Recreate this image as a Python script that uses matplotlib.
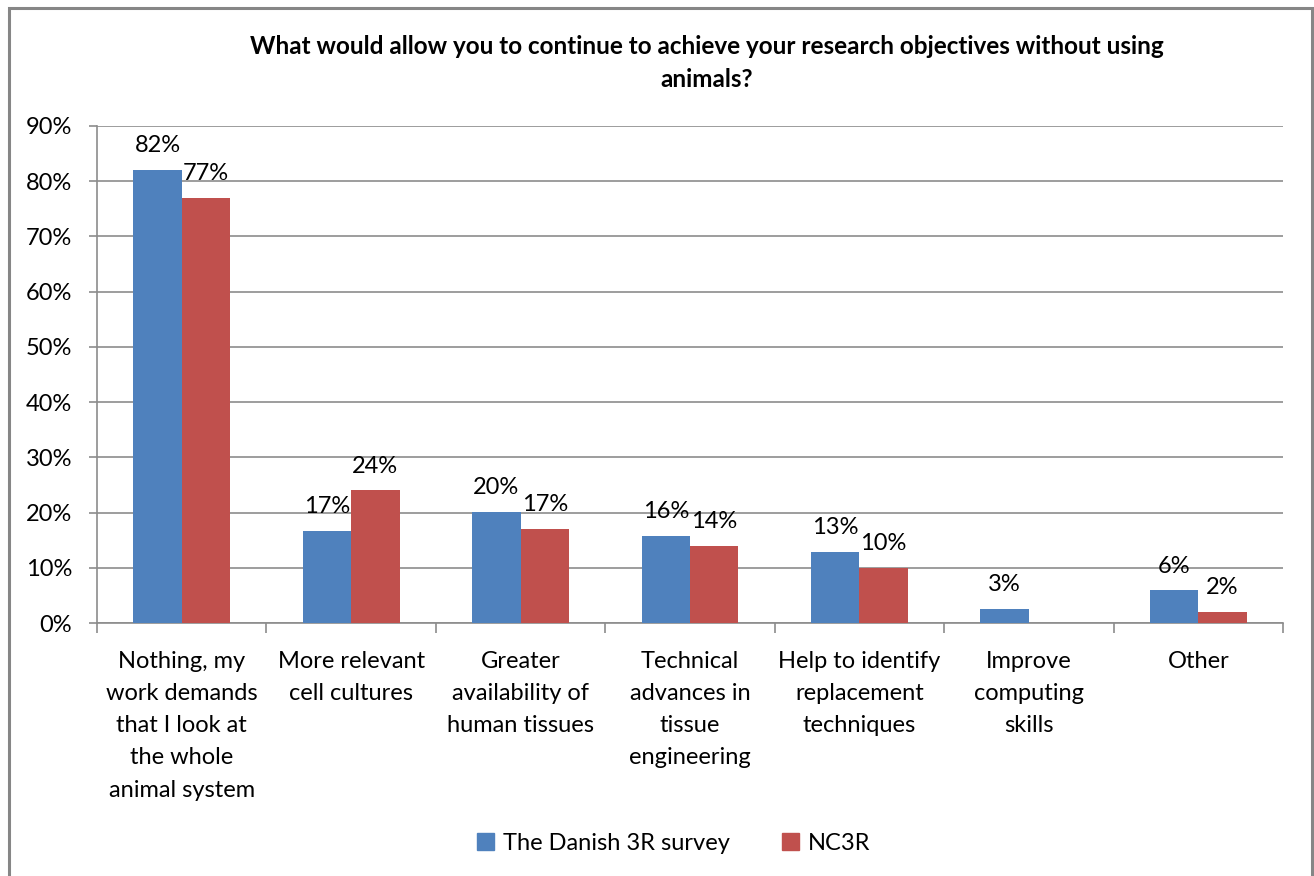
import matplotlib
matplotlib.use("Agg")
import matplotlib.pyplot as plt
import numpy as np
from matplotlib.patches import Rectangle

# Survey answers, percent of respondents
categories = [
    "Nothing, my\nwork demands\nthat I look at\nthe whole\nanimal system",
    "More relevant\ncell cultures",
    "Greater\navailability of\nhuman tissues",
    "Technical\nadvances in\ntissue\nengineering",
    "Help to identify\nreplacement\ntechniques",
    "Improve\ncomputing\nskills",
    "Other",
]
danish = [82.0, 16.7, 20.1, 15.8, 12.8, 2.6, 5.9]
nc3r = [77.0, 24.0, 17.0, 14.0, 10.0, None, 2.0]
series_names = ["The Danish 3R survey", "NC3R"]
yticks = list(range(0, 100, 10))
title = "What would allow you to continue to achieve your research objectives without using\nanimals?"

BLUE = "#4F81BD"
RED = "#C0504D"
GRID = "#8C8C8C"
FONT = "Lato"
FS = 17

plt.rcParams["font.family"] = [FONT, "DejaVu Sans"]

fig = plt.figure(figsize=(13.14, 8.76), dpi=100)
ax = fig.add_axes([97 / 1314, 1 - 623 / 876, (1283 - 97) / 1314, (623 - 126) / 876])

x = np.arange(len(categories))
w = 1 / 3.5  # Excel-style 150% gap width

for vals, off, color in [(danish, -w / 2, BLUE), (nc3r, w / 2, RED)]:
    xs = [xi + off for xi, v in zip(x, vals) if v is not None]
    vs = [v for v in vals if v is not None]
    ax.bar(xs, vs, width=w, color=color, zorder=3)
    for xi, v in zip(xs, vs):
        ax.annotate(f"{v:.0f}%", (xi, v), xytext=(0, 10), textcoords="offset points",
                    ha="center", va="bottom", fontsize=FS, zorder=4)

ax.set_xlim(-0.5, len(categories) - 0.5)
ax.set_ylim(0, 90)
ax.set_yticks(yticks)
ax.set_yticklabels([f"{t}%" for t in yticks], fontsize=FS)
ax.yaxis.grid(True, color=GRID, lw=1.2, zorder=0)
ax.tick_params(axis="y", length=6, width=1.2, color=GRID, pad=12)

ax.set_xticks(x)
ax.set_xticklabels(categories, fontsize=FS, linespacing=1.66, va="top")
ax.tick_params(axis="x", which="major", length=0, pad=20)
ax.set_xticks(np.arange(-0.5, len(categories), 1), minor=True)
ax.tick_params(axis="x", which="minor", length=7, width=1.2, color=GRID)

for s in ["top", "right"]:
    ax.spines[s].set_visible(False)
for s in ["left", "bottom"]:
    ax.spines[s].set_color(GRID)
    ax.spines[s].set_linewidth(1.2)

fig.text(707 / 1314, 1 - 63 / 876, title, ha="center", va="center",
         fontsize=17.5, fontweight="bold", linespacing=1.5)

handles = [Rectangle((0, 0), 1, 1, color=BLUE), Rectangle((0, 0), 1, 1, color=RED)]
fig.legend(handles, series_names, loc="center", bbox_to_anchor=(674 / 1314, 1 - 843 / 876),
           ncol=2, frameon=False, fontsize=FS, handlelength=0.7, handleheight=0.7,
           handletextpad=0.4, columnspacing=2.2)

# chart border
fig.patches.append(Rectangle((8.5 / 1314, -0.05), (1312 - 8.5) / 1314, 1.05 - 8 / 876,
                             transform=fig.transFigure, fill=False, edgecolor="#868686",
                             lw=2.2))

fig.savefig("out.png", dpi=100)
